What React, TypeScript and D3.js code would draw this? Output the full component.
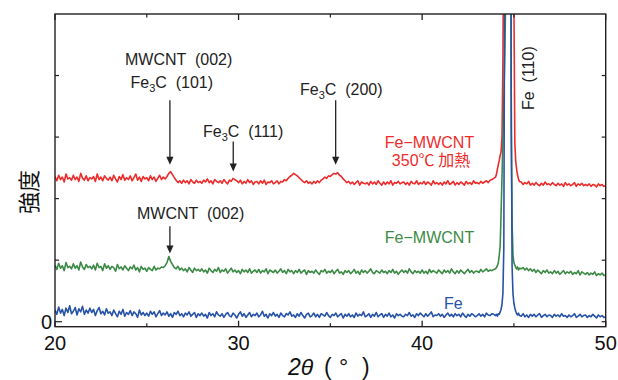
import React from 'react';
import * as d3 from 'd3';

const W = 618;
const H = 380;
const PLOT = { left: 55, right: 605.7, top: 14, bottom: 326.7 };

const xDomain = [20, 50];
const yDomain = [-8.1, 500];
const xMajorTicks = [20, 30, 40, 50];
const xMinorTicks = [25, 35, 45];
const yTicks = [0, 100, 200, 300, 400];
const yTickLabels = ['0'];

const gridStart = 20;
const gridStep = 0.1;
const peakStart = 44.0;
const peakStep = 0.05;

// Fe (blue), 20.0 .. 50.0 step 0.1
const feMain = [
  19,12,24,14,20,10,22,15,26,13,
  17,23,11,21,16,25,12,19,14,22,
  15,20,10,18,23,13,17,11,21,14,
  16,10,19,13,8,17,12,20,9,15,
  12,18,10,16,13,7,19,11,15,10,
  14,9,17,12,16,8,13,18,10,14,
  11,16,9,13,7,15,12,17,10,13,
  8,14,11,16,9,12,15,7,13,10,
  14,9,12,6,15,10,13,8,16,11,
  9,13,7,12,15,10,8,14,11,6,
  12,16,9,13,7,11,15,8,12,10,
  14,8,11,17,9,12,6,13,10,15,
  9,12,7,14,10,8,13,11,16,9,
  11,7,13,9,15,10,6,12,14,8,
  10,14,8,12,7,13,11,9,15,10,
  7,12,10,14,8,11,13,6,12,9,
  13,8,11,7,14,9,12,10,16,8,
  10,13,7,12,9,15,8,11,13,7,
  12,9,14,8,11,6,13,10,12,9,
  8,12,10,15,9,11,7,13,10,14,
  11,8,13,9,12,16,8,11,10,13,
  9,12,7,11,14,9,12,8,13,10,
  12,8,14,10,7,12,9,13,11,8,
  10,13,9,12,8,14,11,10,13,12,
  11,14,12,18,30,300,3000,3000,600,60,
  25,16,12,10,9,13,8,11,7,12,
  9,12,8,11,13,7,10,12,8,11,
  10,7,12,9,11,8,13,9,10,7,
  11,8,10,13,7,9,12,8,10,11,
  7,10,8,12,9,6,11,8,10,7,
  8,
];
// Fe peak, 44.00 .. 45.30 step 0.05
const fePeak = [10,12,9,13,12,16,20,28,46,120,600,1500,3000,4000,4000,3000,1500,400,90,45,30,22,17,13,11,14,10];

// Fe-MWCNT (green)
const feCntMain = [
  92,85,95,87,91,83,96,88,90,86,
  94,87,91,84,97,89,85,93,88,90,
  86,92,84,95,88,90,83,94,87,91,
  85,90,88,82,93,86,89,84,91,87,
  83,89,86,92,84,88,81,90,85,87,
  82,88,85,83,90,84,87,86,89,88,
  91,96,106,98,93,88,86,90,84,87,
  83,86,81,88,84,80,87,83,85,82,
  86,81,84,79,87,83,80,85,82,88,
  80,84,82,86,79,83,87,81,84,80,
  83,78,85,81,84,80,86,79,82,84,
  80,85,79,83,81,86,78,84,82,80,
  84,79,82,86,80,83,78,85,81,83,
  78,83,80,85,79,82,84,77,83,80,
  82,79,84,80,77,83,81,85,79,82,
  80,84,78,82,85,79,81,77,83,80,
  83,78,81,85,79,82,77,84,80,83,
  79,82,86,80,78,83,81,79,84,80,
  82,78,83,80,85,79,82,77,81,84,
  80,83,79,86,81,78,83,80,82,79,
  84,79,82,78,85,80,83,81,79,84,
  81,78,84,80,83,79,86,81,78,83,
  79,84,81,78,82,85,80,83,79,82,
  82,80,85,81,83,86,82,84,83,85,
  86,91,108,175,295,430,800,3000,3000,320,
  105,98,92,89,86,88,84,87,83,86,
  82,85,80,84,81,78,83,80,84,79,
  81,78,83,79,82,77,80,83,78,81,
  79,82,77,80,78,83,76,81,79,77,
  80,76,79,77,81,75,78,76,79,75,
  76,
];
const feCntPeak = [86,88,91,96,108,122,175,235,295,360,430,520,800,1500,3000,4000,3000,320,160,108,96,92,88,86,89,84,87];

// Fe-MWCNT 350°C (red)
const feCntHeatMain = [
  236,229,238,231,235,227,240,232,234,230,
  238,231,235,228,241,233,230,237,229,234,
  232,236,228,240,231,235,229,237,233,230,
  235,229,238,232,227,236,231,239,230,234,
  231,237,229,234,240,230,235,228,236,232,
  234,229,237,231,235,228,233,238,231,235,
  232,236,241,244,239,234,230,226,229,225,
  230,226,229,224,231,227,225,230,226,228,
  225,230,227,232,226,229,224,231,228,226,
  229,225,231,227,224,230,228,233,231,229,
  226,230,224,228,225,231,226,229,223,227,
  228,224,229,225,230,223,227,226,229,224,
  226,229,224,228,227,231,229,233,236,238,
  241,239,237,234,231,228,226,229,225,227,
  224,228,225,229,226,230,232,235,233,237,
  236,239,241,240,242,238,236,232,229,226,
  228,224,227,223,226,229,222,227,225,224,
  226,222,228,224,227,223,229,225,222,227,
  223,227,224,229,222,226,225,228,224,226,
  227,223,226,222,228,225,224,229,223,226,
  224,228,223,227,225,222,229,224,226,223,
  226,222,227,224,229,223,225,228,222,226,
  223,227,225,222,228,224,226,223,229,225,
  226,224,228,225,227,229,226,230,231,233,
  235,248,262,276,420,1500,4000,4000,3000,1200,
  520,260,238,228,227,223,226,224,228,222,
  225,222,226,223,221,225,222,227,223,224,
  222,226,223,221,225,222,224,220,226,222,
  224,221,223,226,220,224,222,225,221,223,
  221,224,220,223,222,219,224,221,223,220,
  221,
];
const feCntHeatPeak = [235,240,248,255,262,270,276,300,420,700,1500,3000,4000,4000,4000,4000,3000,2000,1200,700,520,290,260,247,238,232,228];

const seriesColors = { fe: '#2653a8', cnt: '#3b8a45', heat: '#ee2b2b' };

function buildSeries(main: number[], peak: number[]): [number, number][] {
  const peakEnd = peakStart + (peak.length - 1) * peakStep;
  const pts: [number, number][] = [];
  main.forEach((v, i) => {
    const a = gridStart + i * gridStep;
    if (a < peakStart - 1e-6 || a > peakEnd + 1e-6) pts.push([a, v]);
  });
  peak.forEach((v, i) => pts.push([peakStart + i * peakStep, v]));
  pts.sort((p, q) => p[0] - q[0]);
  return pts;
}

// annotation arrows: angle, from value, to value (tip)
const arrows = [
  { a: 26.26, from: 360, to: 255 },
  { a: 29.71, from: 293, to: 244 },
  { a: 35.29, from: 360, to: 255 },
  { a: 26.26, from: 155, to: 111 },
];

const FONT = '"Liberation Sans", Arial, Helvetica, sans-serif';
const CJK = '"Noto Sans CJK JP", "Liberation Sans", sans-serif';

const Fe3C = ({ x, y, rest }: { x: number; y: number; rest: string }) => (
  <text x={x} y={y} fontSize={16} fontFamily={FONT} fill="#222" style={{ whiteSpace: 'pre' }}>
    Fe<tspan fontSize={11} dy={4}>3</tspan>
    <tspan dy={-4}>{'C  ' + rest}</tspan>
  </text>
);

export default function App() {
  const x = d3.scaleLinear().domain(xDomain).range([PLOT.left, PLOT.right]);
  const y = d3.scaleLinear().domain(yDomain).range([PLOT.bottom, PLOT.top]);
  const line = d3
    .line<[number, number]>()
    .x((d) => x(d[0]))
    .y((d) => y(d[1]));

  const series = [
    { key: 'heat', pts: buildSeries(feCntHeatMain, feCntHeatPeak), color: seriesColors.heat },
    { key: 'cnt', pts: buildSeries(feCntMain, feCntPeak), color: seriesColors.cnt },
    { key: 'fe', pts: buildSeries(feMain, fePeak), color: seriesColors.fe },
  ];

  const axisColor = '#231f20';

  return (
    <svg width={W} height={H} style={{ position: 'absolute', left: 0, top: 0, background: '#fff' }}>
      <defs>
        <clipPath id="plotclip">
          <rect x={PLOT.left} y={PLOT.top} width={PLOT.right - PLOT.left} height={PLOT.bottom - PLOT.top} />
        </clipPath>
      </defs>
      <rect x={0} y={0} width={W} height={H} fill="#fff" />

      <g clipPath="url(#plotclip)">
        {series.map((s) => (
          <path key={s.key} d={line(s.pts) || ''} fill="none" stroke={s.color} strokeWidth={1.6} strokeLinejoin="round" />
        ))}
      </g>

      {/* frame */}
      <rect
        x={PLOT.left}
        y={PLOT.top}
        width={PLOT.right - PLOT.left}
        height={PLOT.bottom - PLOT.top}
        fill="none"
        stroke={axisColor}
        strokeWidth={1.4}
      />

      {/* x ticks */}
      {xMajorTicks.map((t) => (
        <g key={'xM' + t}>
          <line x1={x(t)} x2={x(t)} y1={PLOT.bottom} y2={PLOT.bottom - 6} stroke={axisColor} strokeWidth={1.3} />
          <line x1={x(t)} x2={x(t)} y1={PLOT.top} y2={PLOT.top + 6} stroke={axisColor} strokeWidth={1.3} />
          <text x={x(t)} y={349.5} fontSize={20} fontFamily={FONT} textAnchor="middle" fill="#111">
            {t}
          </text>
        </g>
      ))}
      {xMinorTicks.map((t) => (
        <g key={'xm' + t}>
          <line x1={x(t)} x2={x(t)} y1={PLOT.bottom} y2={PLOT.bottom - 3.5} stroke={axisColor} strokeWidth={1.2} />
          <line x1={x(t)} x2={x(t)} y1={PLOT.top} y2={PLOT.top + 3.5} stroke={axisColor} strokeWidth={1.2} />
        </g>
      ))}

      {/* y ticks */}
      {yTicks.map((t, i) => (
        <g key={'y' + t}>
          <line x1={PLOT.left} x2={PLOT.left + (i === 0 ? 7 : 4)} y1={y(t)} y2={y(t)} stroke={axisColor} strokeWidth={1.2} />
          <line x1={PLOT.right} x2={PLOT.right - 4} y1={y(t)} y2={y(t)} stroke={axisColor} strokeWidth={1.2} />
          {yTickLabels[i] !== undefined && (
            <text x={52} y={y(t)} dy="0.35em" fontSize={20} fontFamily={FONT} textAnchor="end" fill="#111">
              {yTickLabels[i]}
            </text>
          )}
        </g>
      ))}

      {/* axis titles */}
      <text
        transform="translate(27,192) rotate(-90)"
        fontSize={22}
        fontFamily={CJK}
        textAnchor="middle"
        dominantBaseline="central"
        fill="#111"
      >
        強度
      </text>
      <text x={288} y={375} fontSize={23} fontFamily={FONT} fontStyle="italic" fill="#111">
        2θ
      </text>
      <text x={324} y={375} fontSize={23} fontFamily={FONT} fill="#111">(</text>
      <text x={339} y={375} fontSize={23} fontFamily={FONT} fill="#111">°</text>
      <text x={362} y={375} fontSize={23} fontFamily={FONT} fill="#111">)</text>

      {/* arrows */}
      {arrows.map((ar, i) => {
        const ax = x(ar.a);
        const y1 = y(ar.from);
        const y2 = y(ar.to);
        return (
          <g key={'ar' + i}>
            <line x1={ax} x2={ax} y1={y1} y2={y2 - 7} stroke="#222" strokeWidth={1.3} />
            <path d={`M${ax - 3.6},${y2 - 8} L${ax + 3.6},${y2 - 8} L${ax},${y2} Z`} fill="#222" />
          </g>
        );
      })}

      {/* annotations */}
      <text x={125} y={65} fontSize={16} fontFamily={FONT} fill="#222" style={{ whiteSpace: 'pre' }}>
        {'MWCNT  (002)'}
      </text>
      <Fe3C x={130.5} y={88} rest="(101)" />
      <Fe3C x={203} y={136.5} rest="(111)" />
      <Fe3C x={300} y={95} rest="(200)" />
      <text
        transform="translate(534,110) rotate(-90)"
        fontSize={16}
        fontFamily={FONT}
        fill="#222"
        style={{ whiteSpace: 'pre' }}
      >
        {'Fe  (110)'}
      </text>

      <text x={429.5} y={147.5} fontSize={16} fontFamily={FONT} textAnchor="middle" fill={seriesColors.heat}>
        Fe−MWCNT
      </text>
      <text x={431} y={166} fontSize={16} fontFamily={FONT} textAnchor="middle" fill={seriesColors.heat}>
        350<tspan fontFamily={CJK}>℃ 加熱</tspan>
      </text>

      <text x={137} y={219.3} fontSize={16} fontFamily={FONT} fill="#222" style={{ whiteSpace: 'pre' }}>
        {'MWCNT  (002)'}
      </text>
      <text x={429.5} y={243.3} fontSize={16} fontFamily={FONT} textAnchor="middle" fill={seriesColors.cnt}>
        Fe−MWCNT
      </text>
      <text x={444} y={309.3} fontSize={16} fontFamily={FONT} fill={seriesColors.fe}>
        Fe
      </text>
    </svg>
  );
}
